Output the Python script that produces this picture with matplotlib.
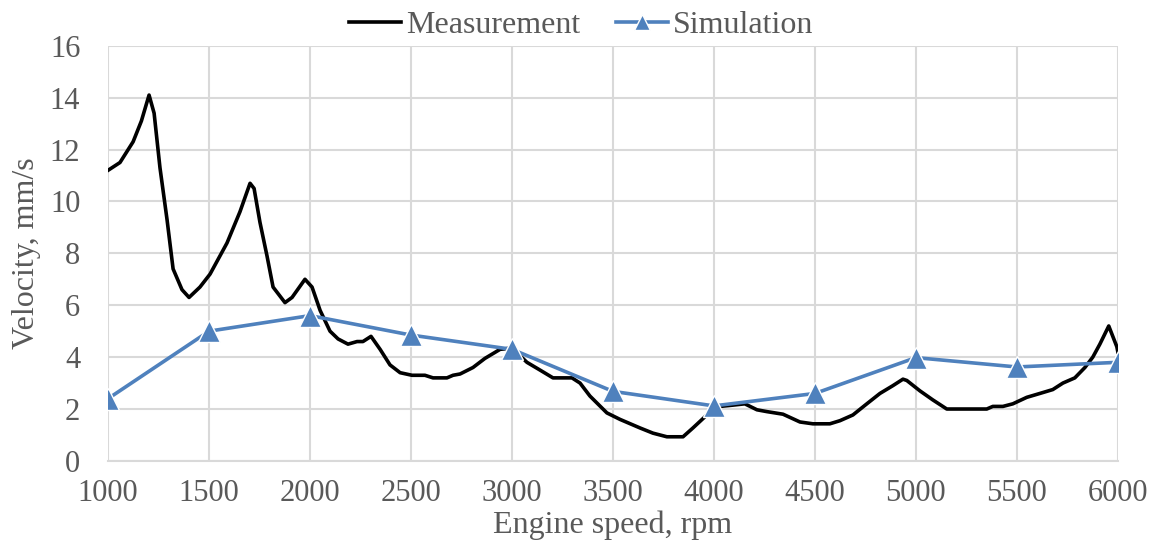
import numpy as np
import matplotlib
matplotlib.use("Agg")
import matplotlib.pyplot as plt

plt.rcParams['font.family'] = ['Liberation Serif', 'DejaVu Serif']

meas_rpm = [1000, 1059, 1124, 1165, 1203, 1228, 1257, 1292, 1322, 1366, 1401, 1455, 1505,
            1589, 1653, 1703, 1723, 1752, 1787, 1817, 1876, 1911, 1975, 2010, 2050, 2099,
            2139, 2188, 2233, 2262, 2302, 2347, 2396, 2446, 2505, 2569, 2609, 2678, 2708,
            2743, 2807, 2866, 2941, 3000, 3074, 3139, 3203, 3297, 3337, 3386, 3470, 3535,
            3634, 3698, 3767, 3847, 3896, 3965, 4030, 4094, 4153, 4213, 4262, 4342, 4426,
            4490, 4574, 4624, 4688, 4757, 4822, 4886, 4936, 4955, 5020, 5084, 5153, 5252,
            5351, 5381, 5431, 5480, 5549, 5614, 5678, 5728, 5787, 5837, 5876, 5911, 5955,
            5995, 6000]
meas_vel = [11.2, 11.5, 12.3, 13.1, 14.1, 13.4, 11.3, 9.3, 7.4, 6.6, 6.3, 6.7, 7.2,
            8.4, 9.6, 10.7, 10.5, 9.2, 7.9, 6.7, 6.1, 6.3, 7.0, 6.7, 5.8, 5.0,
            4.7, 4.5, 4.6, 4.6, 4.8, 4.3, 3.7, 3.4, 3.3, 3.3, 3.2, 3.2, 3.3,
            3.35, 3.6, 3.95, 4.3, 4.35, 3.8, 3.5, 3.2, 3.2, 3.0, 2.5, 1.85, 1.6,
            1.27, 1.07, 0.93, 0.93, 1.27, 1.77, 2.1, 2.15, 2.2, 1.97, 1.9, 1.8, 1.5,
            1.43, 1.43, 1.55, 1.77, 2.2, 2.6, 2.9, 3.15, 3.1, 2.7, 2.35, 2.0, 2.0,
            2.0, 2.1, 2.1, 2.2, 2.45, 2.6, 2.75, 3.0, 3.2, 3.6, 4.0, 4.5, 5.2,
            4.4, 4.2]

sim_rpm = [1000, 1500, 2000, 2500, 3000, 3500, 4000, 4500, 5000, 5500, 6000]
sim_vel = [2.4, 5.0, 5.6, 4.85, 4.3, 2.68, 2.12, 2.6, 3.98, 3.62, 3.8]

grey = '#595959'

fig = plt.figure(figsize=(11.62, 5.58), dpi=100)
ax = fig.add_axes([0.093, 0.174, 0.869, 0.744])

ax.plot(meas_rpm, meas_vel, color='black', lw=2.6, label='Measurement', zorder=3)
ax.plot(sim_rpm, sim_vel, color='#4f81bd', lw=2.6, marker='^', markersize=16,
        markeredgecolor='white', markeredgewidth=1, label='Simulation', zorder=4)

ax.set_xlim(1000, 6000)
ax.set_ylim(0, 16)
ax.set_xticks(np.arange(1000, 6001, 500))
ax.set_yticks(np.arange(0, 17, 2))
ax.grid(True, color='#d9d9d9', lw=1.5)
ax.set_axisbelow(True)
for s in ['top', 'right', 'left']:
    ax.spines[s].set_visible(False)
ax.spines['bottom'].set_color('#d9d9d9')
ax.spines['bottom'].set_linewidth(1.5)
ax.tick_params(length=0, labelsize=22, colors=grey)
ax.tick_params(axis='x', pad=13)
ax.tick_params(axis='y', pad=20)
ax.set_xlabel('Engine speed, rpm', fontsize=23, color=grey, labelpad=2)
ax.set_ylabel('Velocity, mm/s', fontsize=23, color=grey, labelpad=6)

# legend is centred on the whole figure, not the axes
leg = fig.legend(loc='lower center', bbox_to_anchor=(0.5, 0.905), ncol=2, frameon=False,
                 fontsize=23, handlelength=1.65, handletextpad=0.15, columnspacing=1.1,
                 borderaxespad=0, markerscale=0.7)
for t in leg.get_texts():
    t.set_color(grey)

fig.savefig('out.png', dpi=100)
